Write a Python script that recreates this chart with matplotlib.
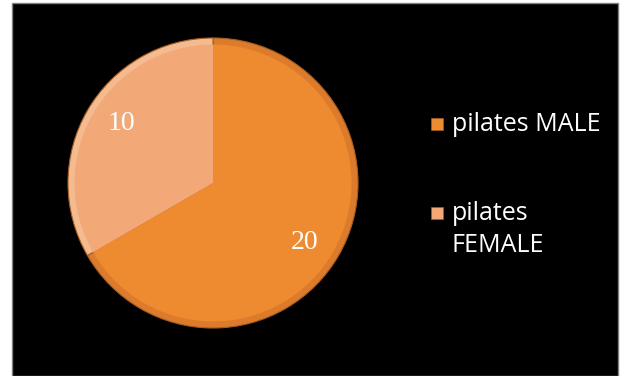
import numpy as np
import matplotlib.pyplot as plt
from matplotlib.patches import Rectangle

labels = ["pilates MALE", "pilates\nFEMALE"]
values = [20, 10]
colors = ["#EE8B30", "#F2A877"]
rim_colors = ["#DC7B2B", "#F5BB90"]

fig = plt.figure(figsize=(6.21, 3.76), dpi=100)
fig.patch.set_facecolor("white")

# black panel with thin grey border (behind everything)
fig.patches.append(Rectangle((12 / 621, 0), 606 / 621, 373 / 376,
                             transform=fig.transFigure, facecolor="black",
                             edgecolor="#808080", linewidth=1, zorder=-10))

ax = fig.add_axes([68 / 621, 48 / 376, 290 / 621, 290 / 376])
ax.set_facecolor("none")
wedges, _ = ax.pie(values, colors=rim_colors, startangle=90, counterclock=False,
                   wedgeprops=dict(edgecolor="#A85E22", linewidth=0.8))
# inner face, slightly smaller, gives a soft bevel look
ax.pie(values, colors=colors, startangle=90, counterclock=False, radius=0.955,
       wedgeprops=dict(linewidth=0))
ax.set_xlim(-1, 1)
ax.set_ylim(-1, 1)

for w, v in zip(wedges, values):
    mid = np.deg2rad((w.theta1 + w.theta2) / 2 - 3)
    ax.text(0.75 * np.cos(mid), 0.75 * np.sin(mid), str(v), color="white",
            fontsize=20, family="Liberation Serif", ha="center", va="center")

# legend drawn by hand: small square + white label
first_baseline = [131, 220]
line_step = 32
for lab, col, y in zip(labels, colors, first_baseline):
    fig.patches.append(Rectangle((431 / 621, 1 - (y - 1) / 376), 12 / 621, 12 / 376,
                                 transform=fig.transFigure, facecolor=col,
                                 edgecolor="#A85E22", linewidth=0.5))
    nlines = lab.count("\n")
    for k, part in enumerate(lab.split("\n")):
        fig.text(452 / 621, 1 - (y + k * line_step) / 376, part, color="white",
                 fontsize=18, family="Open Sans", ha="left", va="baseline")

fig.savefig("out.png", dpi=100, facecolor=fig.get_facecolor())
